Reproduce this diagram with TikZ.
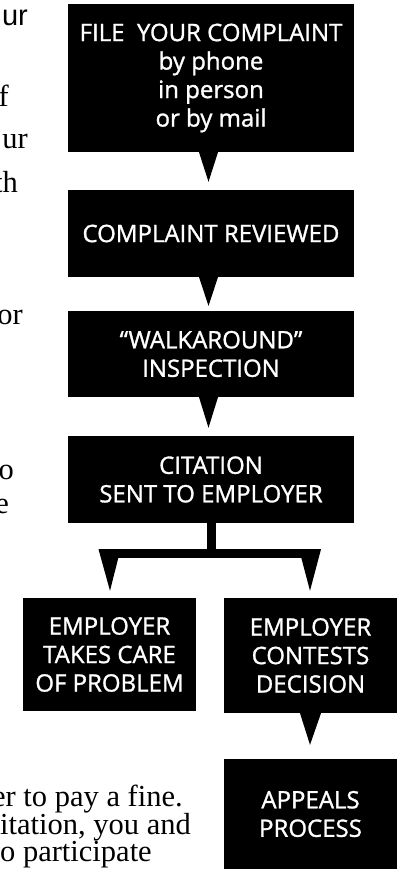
\documentclass[tikz,border=0pt]{standalone}
\usepackage{fontspec}
\setmainfont{Liberation Serif}
\newfontfamily\boxfont[FakeBold=1.2]{Open Sans}
\newfontfamily\fragsans{Liberation Sans}
\usetikzlibrary{calc}
\begin{document}
\begin{tikzpicture}[x=1pt,y=-1pt,
  blk/.style={fill=black, text=white, inner sep=0pt, align=center,
    font=\boxfont\fontsize{24}{28.5}\selectfont},
  wide/.style={minimum width=286pt},
  narrow/.style={minimum width=173pt},
  frag/.style={inner sep=0pt, anchor=base east, font=\fontsize{30.5}{27}\selectfont},
  para/.style={inner sep=0pt, anchor=north west, align=left, font=\fontsize{30.5}{27}\selectfont},
  sfrag/.style={inner sep=0pt, anchor=base east, font=\fragsans\fontsize{29}{30}\selectfont},
  tri/.style={fill=black},
  bar/.style={draw=black, line width=9pt},
]
\useasboundingbox (0,0) rectangle (398,869);

% boxes
\node[blk, wide, minimum height=148pt] (b1) at (211,78) {FILE~~YOUR COMPLAINT\\by phone\\in person\\or by mail};
\node[blk, wide, minimum height=87pt] (b2) at (211,233.5) {COMPLAINT REVIEWED};
\node[blk, wide, minimum height=86pt] (b3) at (211,354) {“WALKAROUND”\\INSPECTION};
\node[blk, wide, minimum height=87pt] (b4) at (211,479.5) {CITATION\\SENT TO EMPLOYER};
\node[blk, narrow, minimum height=113pt] (b5) at (109.5,654.5) {EMPLOYER\\TAKES CARE\\OF PROBLEM};
\node[blk, narrow, minimum height=115pt] (b6) at (310.5,655.5) {EMPLOYER\\CONTESTS\\DECISION};
\node[blk, narrow, minimum height=110pt] (b7) at (310.5,814) {APPEALS\\PROCESS};

% connectors
\fill[tri] ($(b1.south)+(-12,0)$) -- ($(b1.south)+(7,0)$) -- ($(b2.north)+(-2.5,-8)$) -- cycle;
\fill[tri] ($(b2.south)+(-12,0)$) -- ($(b2.south)+(7,0)$) -- ($(b3.north)+(-2.5,-5)$) -- cycle;
\fill[tri] ($(b3.south)+(-12,0)$) -- ($(b3.south)+(7,0)$) -- ($(b4.north)+(-2.5,-8)$) -- cycle;

\coordinate (j) at ($(b4.south)+(0.5,30.5)$);
\draw[bar] ($(b4.south)+(0.5,0)$) -- (j);
\draw[bar] (j -| b5.north) -- (j -| b6.north);
\fill[tri] ($(j -| b5.north)+(-11,-4.5)$) -- ($(j -| b5.north)+(11,-4.5)$) -- ($(b5.north)+(0.5,-7)$) -- cycle;
\fill[tri] ($(j -| b6.north)+(-11.5,-4.5)$) -- ($(j -| b6.north)+(10.5,-4.5)$) -- ($(b6.north)+(-0.5,-7)$) -- cycle;
\fill[tri] ($(b6.south)+(-10.5,0)$) -- ($(b6.south)+(10.5,0)$) -- ($(b7.north)+(-0.5,-14)$) -- cycle;

% page text fragments at the left edge
\node[sfrag] (f0) at (28,26) {ur};
\node[frag] (f1) at (9,107) {f};
\node[frag] (f2) at (28,149) {ur};
\node[frag] (f3) at (18,193) {th};
\node[frag] (f4) at (23,324) {or};
\node[frag] (f5) at (14,479) {o};
\node[frag] (f6) at (9,513) {e};
\node[para] (f7) at (0,784.5) {\hspace*{-8pt}er to pay a fine.\\itation, you and\\o participate};
\end{tikzpicture}
\end{document}
